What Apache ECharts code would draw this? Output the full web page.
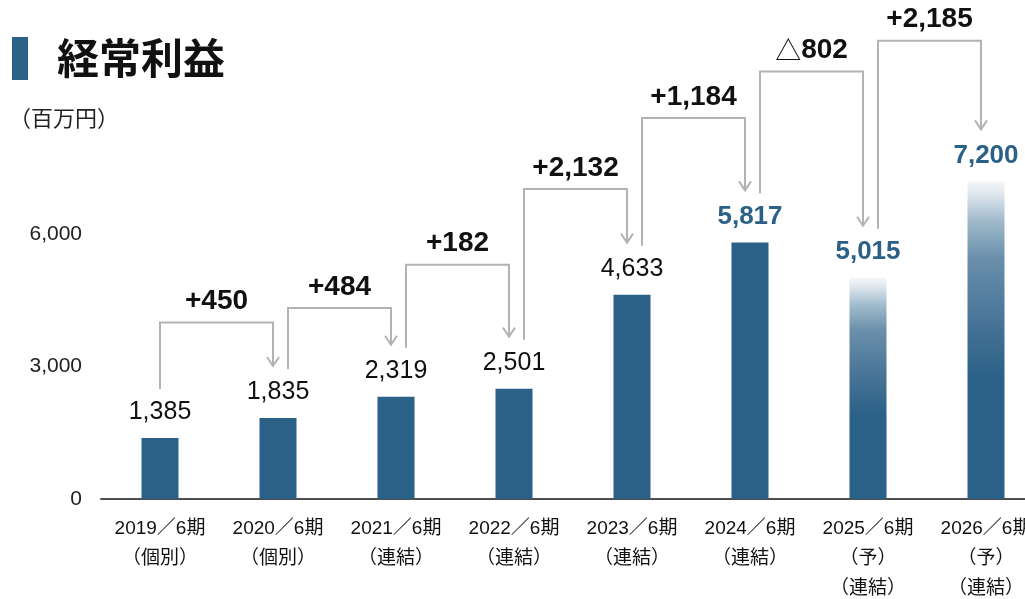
<!DOCTYPE html>
<html>
<head>
<meta charset="utf-8">
<script src="https://cdn.jsdelivr.net/npm/echarts@6/dist/echarts.min.js"></script>
<style>
  html, body { margin: 0; padding: 0; background: #fff; }
  #main { width: 1025px; height: 599px; }
</style>
</head>
<body>
<div id="main"></div>
<script>
// 期（カテゴリ）
const periods = ['2019／6期', '2020／6期', '2021／6期', '2022／6期', '2023／6期', '2024／6期', '2025／6期', '2026／6期']
const notes = [['（個別）'], ['（個別）'], ['（連結）'], ['（連結）'], ['（連結）'], ['（連結）'], ['（予）', '（連結）'], ['（予）', '（連結）']]
// 経常利益（百万円）
const profit = [1385, 1835, 2319, 2501, 4633, 5817, 5015, 7200]
const forecast = [false, false, false, false, false, false, true, true]
const highlight = [false, false, false, false, false, true, true, true]
const yTicks = [0, 3000, 6000]

// 増減ブラケットの高さ（軸の値）
const bracketTop = [4000, 4330, 5310, 7030, 8640, 9690, 10390]

const BLUE = '#2b6087'
const fmt = v => v.toLocaleString('en-US')
const diffText = d => (d < 0 ? '{tri|△}' + fmt(-d) : '+' + fmt(d))

const barData = profit.map((v, i) => ({
  value: v,
  itemStyle: {
    color: forecast[i]
      ? new echarts.graphic.LinearGradient(0, 0, 0, 1, [
          { offset: 0, color: '#f4f7f9' },
          { offset: 0.04, color: '#dfe7ee' },
          { offset: 0.12, color: '#a3bccd' },
          { offset: 0.24, color: '#6a8fab' },
          { offset: 0.45, color: '#467397' },
          { offset: 0.62, color: BLUE },
          { offset: 1, color: BLUE },
        ])
      : BLUE,
  },
  label: highlight[i]
    ? { color: BLUE, fontWeight: 'bold', fontSize: 26 }
    : { color: '#111', fontWeight: 'normal', fontSize: 25 },
}))

const bracketData = profit.slice(0, -1).map((v, i) => [i, bracketTop[i], profit[i + 1] - v])

const chart = echarts.init(document.getElementById('main'))

chart.setOption({
  animation: false,
  textStyle: { fontFamily: '"Liberation Sans", Arial, "Noto Sans CJK JP", sans-serif' },
  grid: { left: 101, right: -20, top: 102, bottom: 100, containLabel: false, outerBoundsMode: 'none' },
  graphic: [
    { type: 'rect', left: 12, top: 37, shape: { width: 16, height: 43 }, style: { fill: BLUE } },
    {
      type: 'text', left: 57, top: 37,
      style: { text: '経常利益', font: 'bold 42px "Noto Sans CJK JP"', fill: '#111' },
    },
    {
      type: 'text', left: 9, top: 107,
      style: { text: '（百万円）', font: '22px "Noto Sans CJK JP"', fill: '#222' },
    },
  ],
  xAxis: {
    type: 'category',
    data: periods,
    axisLine: { lineStyle: { color: '#4d4d4d', width: 2 } },
    axisTick: { show: false },
    axisLabel: {
      interval: 0,
      margin: 15,
      fontSize: 19,
      lineHeight: 30,
      color: '#111',
      fontFamily: '"Liberation Sans", "Noto Sans CJK JP", sans-serif',
      formatter: (v, i) => [v].concat(notes[i]).join('\n'),
    },
  },
  yAxis: {
    type: 'value',
    min: 0,
    max: 9000,
    interval: 3000,
    axisLine: { show: false },
    axisTick: { show: false },
    splitLine: { show: false },
    axisLabel: {
      margin: 19,
      fontSize: 21,
      color: '#222',
      formatter: v => (yTicks.includes(v) ? fmt(v) : ''),
    },
  },
  series: [
    {
      type: 'bar',
      barWidth: 37,
      data: barData,
      label: {
        show: true,
        position: 'top',
        distance: 13,
        formatter: p => fmt(p.value),
        fontFamily: '"Liberation Sans", Arial, sans-serif',
      },
    },
    {
      type: 'custom',
      z: 5,
      data: bracketData,
      encode: { x: 0, y: 1 },
      renderItem: (params, api) => {
        const i = api.value(0)
        const a = api.coord([i, profit[i]])
        const b = api.coord([i + 1, profit[i + 1]])
        const t = api.coord([i, api.value(1)])
        const x1 = a[0] + (i === 0 ? 0 : 10)
        const x2 = b[0] - 5
        const y1 = a[1] - 49
        const y2 = b[1] - 52
        const yt = t[1]
        const line = { stroke: '#b3b3b3', lineWidth: 2, fill: 'none' }
        return {
          type: 'group',
          children: [
            { type: 'polyline', shape: { points: [[x1, y1], [x1, yt], [x2, yt], [x2, y2]] }, style: line },
            { type: 'polyline', shape: { points: [[x2 - 6, y2 - 9], [x2, y2], [x2 + 6, y2 - 9]] }, style: line },
            {
              type: 'text',
              x: (x1 + x2) / 2,
              y: yt - 21,
              style: {
                text: diffText(api.value(2)),
                fill: '#111',
                font: 'bold 28px "Liberation Sans", Arial, sans-serif',
                align: 'center',
                verticalAlign: 'middle',
                rich: {
                  tri: { fontFamily: '"Noto Sans CJK JP"', fontWeight: 'normal', fontSize: 26, fill: '#111' },
                },
              },
            },
          ],
        }
      },
    },
  ],
})
</script>
</body>
</html>
